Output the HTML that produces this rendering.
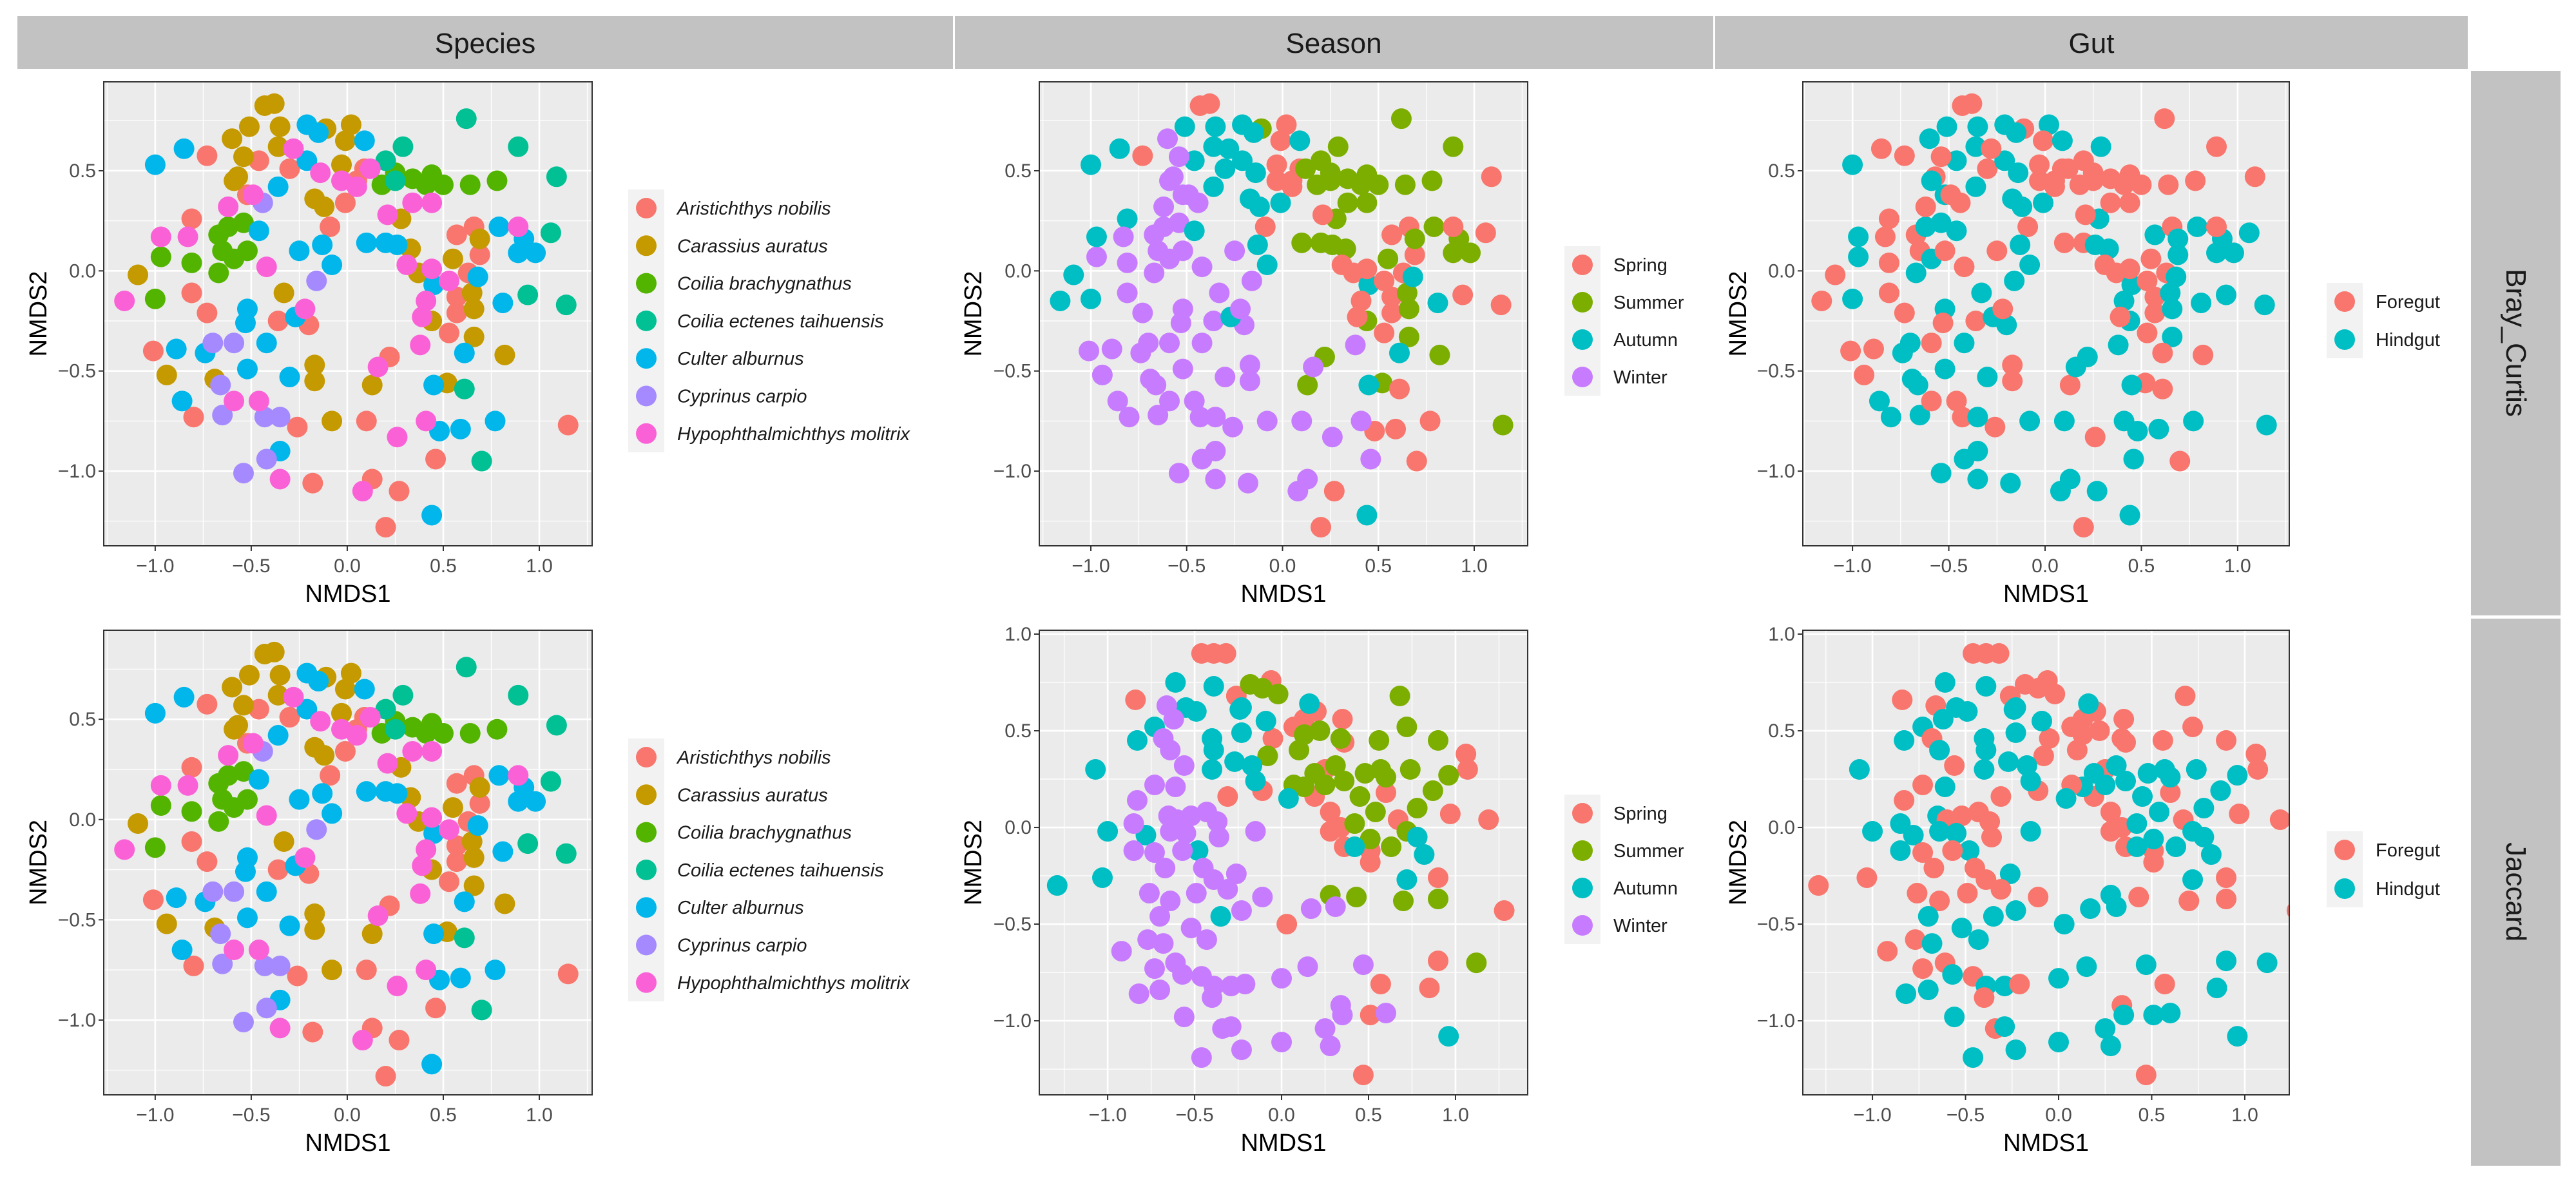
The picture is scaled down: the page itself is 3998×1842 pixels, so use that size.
<!DOCTYPE html>
<html><head><meta charset="utf-8"><style>
html,body{margin:0;padding:0;background:#fff;}
svg{display:block;font-family:"Liberation Sans",Arial,sans-serif;}
</style></head><body>
<svg id="fig" width="3998" height="1842" viewBox="0 0 3998 1842" xmlns="http://www.w3.org/2000/svg">
<rect x="0" y="0" width="3998" height="1842" fill="#ffffff"/>
<g>
<rect x="27" y="25" width="1452" height="82" fill="#C2C2C2"/>
<text x="753" y="82" font-size="44" text-anchor="middle" fill="#1A1A1A">Species</text>
<rect x="1482" y="25" width="1177" height="82" fill="#C2C2C2"/>
<text x="2070" y="82" font-size="44" text-anchor="middle" fill="#1A1A1A">Season</text>
<rect x="2662" y="25" width="1168" height="82" fill="#C2C2C2"/>
<text x="3246" y="82" font-size="44" text-anchor="middle" fill="#1A1A1A">Gut</text>
<rect x="3835" y="110" width="139" height="845" fill="#C2C2C2"/>
<text transform="translate(3890,532) rotate(90)" font-size="44" text-anchor="middle" fill="#1A1A1A">Bray_Curtis</text>
<rect x="3835" y="960" width="139" height="849" fill="#C2C2C2"/>
<text transform="translate(3890,1384) rotate(90)" font-size="44" text-anchor="middle" fill="#1A1A1A">Jaccard</text>
</g>
</svg>
<script>
// ---- Bray-Curtis ordination, grouped by species ----
const aristX=[-0.73,-0.46,-0.30,-0.52,-0.81,-0.09,0.09,0.05,-0.01,0.57,0.66,0.69,0.63,0.57,0.57,0.53,-0.81,-0.73,-0.36,-0.20,-1.01,-0.80,-0.26,0.10,0.22,0.46,-0.18,0.13,0.27,0.20,1.15];
const aristY=[0.575,0.55,0.51,0.38,0.26,0.22,0.51,0.45,0.34,0.18,0.22,0.08,-0.01,-0.13,-0.21,-0.31,-0.11,-0.21,-0.25,-0.27,-0.40,-0.73,-0.78,-0.75,-0.43,-0.94,-1.06,-1.04,-1.10,-1.28,-0.77];
const aristSeason=[0,2,2,3,2,0,0,0,2,0,0,0,0,0,0,0,3,3,3,3,3,3,3,3,1,3,3,3,0,0,1];
const aristGut=[0,1,0,1,0,0,0,0,1,1,0,1,0,0,0,0,0,0,0,1,0,1,0,1,1,1,1,1,1,0,1];
const carasX=[-0.43,-0.38,-0.51,-0.35,-0.60,-0.54,-0.57,-0.59,-0.36,-0.11,0.02,-0.01,-0.03,-0.17,-0.12,0.28,0.33,0.37,0.55,0.69,0.65,0.66,0.44,0.66,0.82,-0.33,-0.17,-0.17,0.13,0.52,-0.08,-0.94,-1.09,-0.69];
const carasY=[0.825,0.835,0.72,0.72,0.66,0.57,0.47,0.45,0.62,0.71,0.73,0.65,0.53,0.36,0.32,0.26,0.11,-0.01,0.06,0.16,-0.11,-0.19,-0.25,-0.33,-0.42,-0.11,-0.47,-0.55,-0.57,-0.56,-0.75,-0.52,-0.02,-0.54];
const carasSeason=[0,0,2,2,3,3,3,3,2,1,0,0,0,2,2,1,1,0,1,1,1,1,1,1,1,3,3,3,1,1,3,3,2,3];
const carasGut=[0,0,1,1,1,0,0,1,1,0,1,0,0,1,1,1,1,0,0,1,1,1,1,1,0,1,0,0,0,0,1,0,0,1];
const brachX=[-0.67,-0.62,-0.54,-0.65,-0.59,-0.67,-0.52,-0.97,-0.81,-1.00,0.18,0.34,0.44,0.50,0.64,0.78,0.25,0.41];
const brachY=[0.18,0.22,0.24,0.10,0.06,-0.01,0.10,0.07,0.04,-0.14,0.43,0.46,0.48,0.43,0.43,0.45,0.49,0.43];
const brachSeason=[3,3,3,3,3,3,3,3,3,2,1,1,1,1,1,1,1,1];
const brachGut=[0,1,1,0,1,1,0,1,0,1,0,0,0,0,0,0,0,0];
const ectenX=[0.62,0.89,1.09,1.06,0.94,1.14,0.29,0.20,0.25,0.70,0.61];
const ectenY=[0.76,0.62,0.47,0.19,-0.12,-0.17,0.62,0.55,0.45,-0.95,-0.59];
const ectenSeason=[1,1,0,0,0,0,1,1,1,0,0];
const ectenGut=[0,0,0,1,1,1,1,0,0,0,0];
const culterX=[-1.00,-0.85,-0.21,-0.15,0.09,-0.21,-0.36,-0.46,-0.25,-0.13,-0.08,0.10,0.20,0.26,0.45,0.68,0.79,0.89,0.92,0.98,0.81,-0.52,-0.53,-0.42,-0.27,-0.89,-0.74,-0.52,-0.30,-0.86,-0.35,0.45,0.48,0.59,0.77,0.61,0.44];
const culterY=[0.53,0.61,0.73,0.69,0.65,0.55,0.42,0.20,0.10,0.13,0.03,0.14,0.14,0.13,-0.07,-0.03,0.22,0.09,0.16,0.09,-0.16,-0.19,-0.26,-0.36,-0.23,-0.39,-0.41,-0.49,-0.53,-0.65,-0.90,-0.57,-0.80,-0.79,-0.75,-0.41,-1.22];
const culterSeason=[2,2,2,2,2,2,2,2,3,2,2,1,1,1,2,2,1,1,1,1,2,3,3,3,2,3,3,3,3,3,3,2,0,0,0,2,2];
const culterGut=[1,0,1,1,1,1,1,1,0,1,1,0,0,1,1,1,1,1,1,1,1,1,0,1,1,0,1,1,1,1,1,1,1,1,1,0,1];
const cyprX=[-0.44,-0.16,-0.70,-0.59,-0.66,-0.65,-0.43,-0.35,-0.42,-0.54];
const cyprY=[0.34,-0.05,-0.36,-0.36,-0.57,-0.72,-0.73,-0.73,-0.94,-1.01];
const cyprSeason=[3,3,3,3,3,3,3,3,3,3];
const cyprGut=[0,1,1,0,1,1,0,1,1,1];
const hypoX=[-1.16,-0.97,-0.83,-0.62,-0.42,-0.28,-0.14,-0.03,0.05,0.12,0.21,0.34,0.44,0.31,0.44,0.41,0.39,0.53,0.89,-0.22,0.38,0.16,-0.59,-0.46,0.41,0.26,-0.35,0.08,-0.49];
const hypoY=[-0.15,0.17,0.17,0.32,0.02,0.61,0.49,0.45,0.42,0.51,0.28,0.34,0.34,0.03,0.01,-0.15,-0.23,-0.05,0.22,-0.19,-0.37,-0.48,-0.65,-0.65,-0.75,-0.83,-1.04,-1.10,0.38];
const hypoSeason=[2,2,3,3,3,2,2,0,0,1,0,1,1,0,0,0,0,0,0,3,3,3,3,3,3,3,3,3,3];
const hypoGut=[0,1,0,0,0,0,1,0,0,0,0,0,0,0,0,1,0,0,0,0,1,1,0,0,1,0,1,1,0];

// ---- Jaccard ordination, grouped by season ----
const jSpringX=[-0.46,-0.39,-0.32,-0.84,-0.06,-0.26,0.35,0.20,-0.05,0.07,0.25,0.19,-0.31,-0.11,0.28,0.28,0.34,0.36,0.51,0.51,0.60,0.67,0.97,1.19,1.06,1.07,0.90,1.28,0.03,0.90,0.85,0.57,0.51,0.47,0.36,0.13];
const jSpringY=[0.90,0.90,0.90,0.66,0.76,0.68,0.56,0.60,0.46,0.52,0.30,0.16,0.16,0.19,0.08,-0.02,0.00,-0.10,-0.12,-0.18,0.18,0.04,0.07,0.04,0.38,0.30,-0.26,-0.43,-0.50,-0.69,-0.83,-0.81,-0.97,-1.28,0.44,0.56];
const jSpringGut=[0,0,0,0,0,0,0,0,0,0,0,0,0,0,0,0,0,0,0,0,0,0,0,0,0,0,0,0,1,1,1,0,1,0,0,0];
const jSummerX=[-0.18,-0.11,-0.02,0.68,0.72,0.56,0.90,0.74,0.96,0.87,0.78,0.13,0.22,0.34,-0.08,0.10,0.19,0.31,0.13,0.25,0.36,0.48,0.57,0.45,0.54,0.42,0.51,0.63,0.72,0.28,0.43,0.70,0.90,1.12,0.07,0.60];
const jSummerY=[0.74,0.72,0.69,0.68,0.52,0.45,0.45,0.30,0.27,0.19,0.10,0.48,0.50,0.46,0.37,0.40,0.28,0.32,0.21,0.22,0.24,0.28,0.30,0.16,0.08,0.02,-0.06,-0.10,-0.02,-0.35,-0.36,-0.38,-0.37,-0.70,0.22,0.26];
const jSummerGut=[0,0,0,0,0,0,0,1,1,1,1,0,0,0,0,0,1,1,1,1,1,1,1,1,1,1,1,1,1,1,0,0,0,1,0,1];
const jAutumnX=[-0.61,-0.39,-0.55,-0.49,-0.24,0.16,-0.09,-0.83,-0.73,-0.40,-0.39,-0.23,-0.27,-0.40,-0.17,-0.15,-1.07,-1.00,-0.78,-0.48,0.04,0.78,0.82,0.72,-0.35,0.96,-1.29,-1.03,0.42,-0.23];
const jAutumnY=[0.75,0.73,0.62,0.60,0.61,0.64,0.55,0.45,0.52,0.46,0.40,0.49,0.34,0.30,0.32,0.24,0.30,-0.02,-0.04,-0.12,0.15,-0.05,-0.14,-0.27,-0.46,-1.08,-0.30,-0.26,-0.10,0.62];
const jAutumnGut=[1,1,1,1,1,1,1,1,1,1,1,1,1,1,1,1,1,1,1,1,1,1,1,1,1,1,0,0,1,1];
const jWinterX=[-0.66,-0.62,-0.68,-0.64,-0.56,-0.73,-0.61,-0.83,-0.85,-0.65,-0.60,-0.52,-0.43,-0.37,-0.64,-0.55,-0.36,-0.15,-0.57,-0.85,-0.73,-0.67,-0.45,-0.26,-0.39,-0.76,-0.64,-0.70,-0.49,-0.31,-0.23,-0.11,0.17,0.31,-0.52,-0.43,-0.92,-0.77,-0.68,-0.73,-0.61,-0.57,-0.46,-0.39,-0.29,-0.21,-0.82,-0.70,-0.40,0.00,0.15,0.47,0.34,0.35,0.60,0.25,0.28,0.00,-0.34,-0.29,-0.56,-0.23,-0.46];
const jWinterY=[0.63,0.56,0.46,0.40,0.32,0.22,0.21,0.14,0.02,0.06,0.04,0.06,0.08,0.03,-0.02,-0.03,-0.05,-0.02,-0.12,-0.12,-0.13,-0.21,-0.21,-0.24,-0.27,-0.34,-0.38,-0.46,-0.34,-0.32,-0.43,-0.36,-0.42,-0.41,-0.52,-0.58,-0.64,-0.58,-0.60,-0.73,-0.70,-0.76,-0.77,-0.82,-0.82,-0.81,-0.86,-0.84,-0.88,-0.78,-0.72,-0.71,-0.92,-0.97,-0.96,-1.04,-1.13,-1.11,-1.04,-1.03,-0.98,-1.15,-1.19];
const jWinterGut=[0,1,0,1,0,0,1,0,1,1,0,0,0,0,1,1,0,1,0,1,0,0,0,1,0,0,0,1,0,0,1,0,1,1,1,1,0,0,1,0,0,1,0,1,1,0,1,1,0,1,1,1,0,1,1,1,1,1,0,1,1,1,1];

// ---- labels and tick values ----
const speciesNames=["Aristichthys nobilis","Carassius auratus","Coilia brachygnathus","Coilia ectenes taihuensis","Culter alburnus","Cyprinus carpio","Hypophthalmichthys molitrix"];
const seasonNames=["Spring","Summer","Autumn","Winter"];
const gutNames=["Foregut","Hindgut"];
const xTicks=[-1.0,-0.5,0.0,0.5,1.0];
const yTicksBray=[-1.0,-0.5,0.0,0.5];
const yTicksJac=[-1.0,-0.5,0.0,0.5,1.0];

const speciesCol=["#F8766D","#C49A00","#53B400","#00C094","#00B6EB","#A58AFF","#FB61D7"];
const seasonCol=["#F8766D","#7CAE00","#00BFC4","#C77CFF"];
const gutCol=["#F8766D","#00BFC4"];

const NS="http://www.w3.org/2000/svg";
const svg=document.getElementById('fig');
function mk(tag,attrs,parent){const e=document.createElementNS(NS,tag);for(const k in attrs)e.setAttribute(k,attrs[k]);(parent||svg).appendChild(e);return e;}
function fmt(v){return (v<0?"\u2212":"")+Math.abs(v).toFixed(1);}

const bcGroups=[[aristX,aristY,aristSeason,aristGut],[carasX,carasY,carasSeason,carasGut],[brachX,brachY,brachSeason,brachGut],[ectenX,ectenY,ectenSeason,ectenGut],[culterX,culterY,culterSeason,culterGut],[cyprX,cyprY,cyprSeason,cyprGut],[hypoX,hypoY,hypoSeason,hypoGut]];
const bcPts=[];
bcGroups.forEach((g,s)=>{for(let i=0;i<g[0].length;i++)bcPts.push({x:g[0][i],y:g[1][i],sp:s,se:g[2][i],gu:g[3][i]});});
const jcGroups=[[jSpringX,jSpringY,jSpringGut],[jSummerX,jSummerY,jSummerGut],[jAutumnX,jAutumnY,jAutumnGut],[jWinterX,jWinterY,jWinterGut]];
const jcPts=[];
jcGroups.forEach((g,s)=>{for(let i=0;i<g[0].length;i++)jcPts.push({x:g[0][i],y:g[1][i],se:s,gu:g[2][i]});});

const defs=mk('defs',{});
let clipN=0;
function panel(o){
  const g=mk('g',{});
  
  
  const sx=v=>o.px0+(v-o.xd[0])/(o.xd[1]-o.xd[0])*(o.px1-o.px0);
  const sy=v=>o.py1-(v-o.yd[0])/(o.yd[1]-o.yd[0])*(o.py1-o.py0);
  const bg=mk('rect',{x:o.px0,y:o.py0,width:o.px1-o.px0,height:o.py1-o.py0,fill:"#EBEBEB"},g);
  
  
  const xm=[],ym=[];
  for(let v=-1.5;v<=1.5;v+=0.5){xm.push(v+0.25);ym.push(v+0.25);}
  xm.forEach(v=>{if(v>o.xd[0]&&v<o.xd[1]){const l=mk('line',{x1:sx(v),x2:sx(v),y1:o.py0,y2:o.py1,stroke:"#fff","stroke-width":1.3},g);}});
  ym.forEach(v=>{if(v>o.yd[0]&&v<o.yd[1]){const l=mk('line',{y1:sy(v),y2:sy(v),x1:o.px0,x2:o.px1,stroke:"#fff","stroke-width":1.3},g);}});
  o.xt.forEach(v=>{const l=mk('line',{x1:sx(v),x2:sx(v),y1:o.py0,y2:o.py1,stroke:"#fff","stroke-width":2.6},g);});
  o.yt.forEach(v=>{const l=mk('line',{y1:sy(v),y2:sy(v),x1:o.px0,x2:o.px1,stroke:"#fff","stroke-width":2.6},g);});
  let pg=g;
  if(o.clip){
    const id='clip'+(clipN++);
    const cp=mk('clipPath',{id:id},defs);
    mk('rect',{x:o.px0,y:o.py0,width:o.px1-o.px0,height:o.py1-o.py0},cp);
    pg=mk('g',{'clip-path':`url(#${id})`},g);
  }
  o.pts.forEach(p=>{const c=mk('circle',{cx:sx(p.x),cy:sy(p.y),r:16,fill:o.color(p)},pg);});
  const bd=mk('rect',{x:o.px0,y:o.py0,width:o.px1-o.px0,height:o.py1-o.py0,fill:"none",stroke:"#333","stroke-width":2},g);
  
  
  o.xt.forEach(v=>{
    const t=mk('line',{x1:sx(v),x2:sx(v),y1:o.py1,y2:o.py1+8,stroke:"#333","stroke-width":2},g);
    
    const tx=mk('text',{x:sx(v),y:o.py1+41,"font-size":30,"text-anchor":"middle",fill:"#4D4D4D"},g);
    tx.textContent=fmt(v);
  });
  o.yt.forEach(v=>{
    const t=mk('line',{x1:o.px0-8,x2:o.px0,y1:sy(v),y2:sy(v),stroke:"#333","stroke-width":2},g);
    
    const tx=mk('text',{x:o.px0-12,y:sy(v)+10,"font-size":30,"text-anchor":"end",fill:"#4D4D4D"},g);
    tx.textContent=fmt(v);
  });
  const xtl=mk('text',{x:(o.px0+o.px1)/2,y:o.py1+87,"font-size":38,"text-anchor":"middle",fill:"#000"},g);
  xtl.textContent="NMDS1";
  const ytl=mk('text',{transform:`translate(${o.ytx},${(o.py0+o.py1)/2}) rotate(-90)`,"font-size":38,"text-anchor":"middle",fill:"#000"},g);
  ytl.textContent="NMDS2";
  const lg=mk('g',{},g);
  
  const n=o.leg.length;
  mk('rect',{x:o.lx-28,y:o.ly0-29,width:56,height:(n-1)*o.lstep+58,fill:"#F2F2F2"},lg);
  o.leg.forEach((name,i)=>{
    const cy=o.ly0+i*o.lstep;
    const k=mk('circle',{cx:o.lx,cy:cy,r:16,fill:o.lcol[i]},lg);
    
    const t=mk('text',{x:o.lx+48,y:cy+10,"font-size":29,fill:"#1A1A1A","font-style":o.italic?"italic":"normal"},lg);
    t.textContent=name;
  });
}

const row1={py0:127,py1:847,yd:[-1.373,0.944],yt:yTicksBray};
const row2b={py0:978,py1:1699,yd:[-1.373,0.944],yt:yTicksBray};
const row2j={py0:978,py1:1699,yd:[-1.383,1.02],yt:yTicksJac};
const spLeg={leg:speciesNames,lcol:speciesCol,lx:1003,lstep:58.3,italic:true};

panel(Object.assign({name:'panel-bray-species',px0:161,px1:919,xd:[-1.268,1.275],xt:xTicks,pts:bcPts,color:p=>speciesCol[p.sp],ytx:72,ly0:323},row1,spLeg));
panel(Object.assign({name:'panel-bray-season',px0:1613,px1:2371,xd:[-1.269,1.279],xt:xTicks,pts:bcPts,color:p=>seasonCol[p.se],ytx:1523,leg:seasonNames,lcol:seasonCol,lx:2456,ly0:411,lstep:58}, row1));
panel(Object.assign({name:'panel-bray-gut',px0:2798,px1:3553,xd:[-1.258,1.268],xt:xTicks,pts:bcPts,color:p=>gutCol[p.gu],ytx:2710,leg:gutNames,lcol:gutCol,lx:3639,ly0:468,lstep:59}, row1));
panel(Object.assign({name:'panel-jaccard-species',px0:161,px1:919,xd:[-1.268,1.275],xt:xTicks,pts:bcPts,color:p=>speciesCol[p.sp],ytx:72,ly0:1175},row2b,spLeg));
panel(Object.assign({name:'panel-jaccard-season',px0:1613,px1:2371,xd:[-1.393,1.415],xt:xTicks,pts:jcPts,color:p=>seasonCol[p.se],ytx:1523,leg:seasonNames,lcol:seasonCol,lx:2456,ly0:1262,lstep:58}, row2j));
panel(Object.assign({name:'panel-jaccard-gut',px0:2798,px1:3553,xd:[-1.374,1.239],xt:xTicks,pts:jcPts,color:p=>gutCol[p.gu],ytx:2710,leg:gutNames,lcol:gutCol,lx:3639,ly0:1319,lstep:60,clip:true}, row2j));
</script>
</body></html>
